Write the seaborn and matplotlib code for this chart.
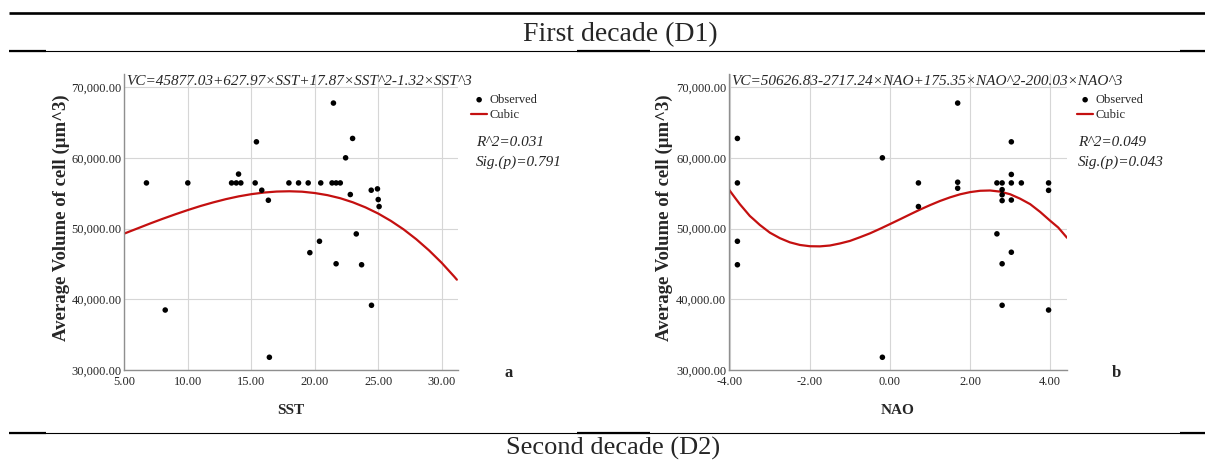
import matplotlib
matplotlib.use("Agg")
import matplotlib.pyplot as plt
import seaborn as sns
from matplotlib.lines import Line2D

# observed points, panel a (SST) and panel b (NAO)
sst_obs = [6.73, 9.99, 13.44, 13.81, 14.17, 13.99, 15.3, 15.4, 15.82, 16.34, 17.96, 18.72,
           19.48, 20.47, 21.47, 21.36, 21.68, 22.01, 22.43, 22.98, 22.8, 24.45, 24.94, 25.0,
           25.07, 8.21, 16.42, 19.61, 20.37, 21.68, 23.27, 23.69, 24.47]
vc_sst_obs = [56450, 56450, 56450, 56450, 56450, 57700, 56450, 62260, 55420, 54000, 56450, 56450,
              56450, 56450, 67740, 56450, 56450, 56450, 60000, 62740, 54810, 55420, 55610, 54100,
              53110, 38480, 31800, 46590, 48200, 45020, 49240, 44880, 39150]

nao_obs = [-3.81, -3.81, -0.19, 0.71, 0.71, 1.69, 1.69, 1.69, 2.67, 2.8, 2.8, 2.8, 2.8,
           3.03, 3.03, 3.03, 3.03, 3.28, 3.96, 3.96, -3.81, -3.81, -0.19, 2.67, 2.8, 2.8,
           3.03, 3.96]
vc_nao_obs = [62740, 56450, 60000, 56450, 53110, 67740, 56550, 55700, 56450, 56450, 55500, 54770,
              53950, 62260, 57650, 56450, 54030, 56450, 56450, 55400, 48200, 44880, 31800, 49250,
              45020, 39150, 46650, 38480]

# fitted cubic curves
sst_curve = [5, 6, 7, 8, 9, 10, 11, 12, 13, 14, 15, 16, 17, 18, 19, 20, 21, 22, 23, 24, 25,
             26, 27, 28, 29, 30, 31, 31.2]
vc_sst_curve = [49300, 50000, 50700, 51370, 52010, 52620, 53190, 53700, 54160, 54550, 54860,
                55090, 55230, 55270, 55210, 55020, 54720, 54290, 53710, 52990, 52120, 51080,
                49880, 48490, 46920, 45160, 43190, 42770]

nao_curve = [-4.02, -3.9, -3.75, -3.6, -3.5, -3.4, -3.25, -3.0, -2.75, -2.5, -2.25, -2.0,
             -1.75, -1.5, -1.25, -1.0, -0.75, -0.5, -0.25, 0.0, 0.25, 0.5, 0.75, 1.0, 1.25,
             1.5, 1.75, 2.0, 2.25, 2.5, 2.75, 3.0, 3.25, 3.5, 3.75, 4.0, 4.2, 4.42]
vc_nao_curve = [55500, 54580, 53450, 52450, 51780, 51280, 50510, 49420, 48640, 48050, 47680,
                47500, 47480, 47600, 47890, 48250, 48770, 49320, 49960, 50630, 51310, 52000,
                52680, 53310, 53900, 54410, 54840, 55150, 55340, 55380, 55220, 54850, 54220,
                53450, 52350, 51100, 50150, 48700]

sst_ticks = [5, 10, 15, 20, 25, 30]
nao_ticks = [-4, -2, 0, 2, 4]
vc_ticks = [30000, 40000, 50000, 60000, 70000]

W, H = 1205, 463
sns.set_style("whitegrid", {"grid.color": "#d6d6d6", "axes.edgecolor": "#8f8f8f"})
plt.rcParams["font.family"] = ["Liberation Serif", "DejaVu Serif"]

fig = plt.figure(figsize=(W / 100, H / 100), dpi=100)


def fx(x):
    return x / W


def fy(y):
    return 1 - y / H


def txt(x, y, s, **kw):
    fig.text(fx(x), fy(y), s, **kw)


def panel(left, right, xs, ys, cx, cy, ticks, xlim, xlabel, eq, stats, letter, pos):
    top, bottom = 74, 370
    ax = fig.add_axes([fx(left), fy(bottom), (right - left) / W, (bottom - top) / H])
    sns.scatterplot(x=xs, y=ys, ax=ax, color="black", s=16, edgecolor="none",
                    label="Observed", zorder=3)
    sns.lineplot(x=cx, y=cy, ax=ax, color="#c41010", lw=1.6, label="Cubic",
                 sort=False, estimator=None, zorder=2)
    ax.set_xlim(*xlim)
    ax.set_ylim(30000, 71850)
    ax.set_xticks(ticks)
    ax.set_xticklabels([f"{t:.2f}" for t in ticks])
    ax.set_yticks(vc_ticks)
    ax.set_yticklabels([f"{v:,.2f}" for v in vc_ticks])
    ax.tick_params(axis="both", length=0, labelsize=9)
    ax.tick_params(axis="x", pad=4)
    ax.tick_params(axis="y", pad=2)
    ax.grid(True, lw=0.8)
    for s in ["top", "right"]:
        ax.spines[s].set_visible(False)
    for s in ["left", "bottom"]:
        ax.spines[s].set_linewidth(1.0)
    ax.set_xlabel("")
    ax.set_ylabel("")
    ax.legend(loc="upper left", bbox_to_anchor=(fx(pos["leg"]), fy(94)),
              bbox_transform=fig.transFigure, frameon=False, fontsize=9,
              handlelength=1.3, handletextpad=0.2, borderpad=0, borderaxespad=0,
              labelspacing=0.25)
    txt(left + 2, 82, eq, fontsize=11, style="italic", va="center", ha="left")
    txt(pos["stat"], 142, stats[0], fontsize=11, style="italic", va="center")
    txt(pos["stat"], 162, stats[1], fontsize=11, style="italic", va="center")
    txt(pos["letter"], 373, letter, fontsize=12, weight="bold", va="center", ha="center")
    txt((left + right) / 2, 411, xlabel, fontsize=11, weight="bold", va="center", ha="center")
    txt(pos["ylab"], 218, "Average Volume of cell (μm^3)", fontsize=13.5, weight="bold",
        rotation=90, va="center", ha="center")
    return ax


panel(124.5, 457.5, sst_obs, vc_sst_obs, sst_curve, vc_sst_curve, sst_ticks, (5, 31.25), "SST",
      "VC=45877.03+627.97×SST+17.87×SST^2-1.32×SST^3", ("R^2=0.031", "Sig.(p)=0.791"), "a",
      {"leg": 471, "stat": 476, "letter": 509, "ylab": 61})
panel(729, 1067, nao_obs, vc_nao_obs, nao_curve, vc_nao_curve, nao_ticks, (-4.02, 4.42), "NAO",
      "VC=50626.83-2717.24×NAO+175.35×NAO^2-200.03×NAO^3", ("R^2=0.049", "Sig.(p)=0.043"), "b",
      {"leg": 1077, "stat": 1078, "letter": 1116, "ylab": 664})


def rule(y, x0, x1, lw):
    fig.add_artist(Line2D([fx(x0), fx(x1)], [fy(y), fy(y)], color="black", lw=lw,
                          solid_capstyle="butt"))


rule(13.3, 9, 1205, 1.9)
for y in (50.7, 432.5):
    rule(y, 9, 1205, 0.8)
    for a, b in ((9, 46), (577, 650), (1180, 1205)):
        rule(y, a, b, 1.6)

txt(620, 35, "First decade (D1)", fontsize=20, va="center", ha="center")
txt(613, 448, "Second decade (D2)", fontsize=19, va="center", ha="center")

fig.savefig("out.png", dpi=100)
